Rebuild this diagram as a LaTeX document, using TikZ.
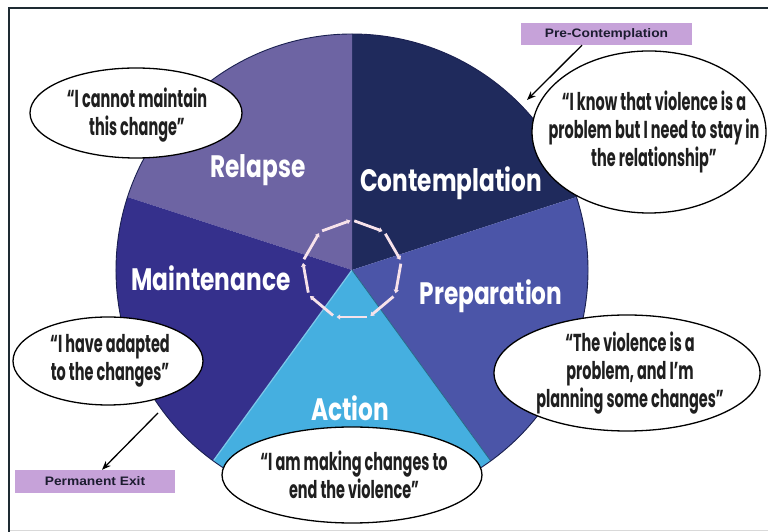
\documentclass[tikz,border=0pt]{standalone}
\usepackage{fontspec}
\setmainfont{Poppins}
\newfontfamily\quotefont[FakeStretch=0.59]{Poppins}
\newfontfamily\labelfont[FakeStretch=0.75]{Poppins}
\newfontfamily\boxfont[FakeStretch=1.12]{Liberation Sans}
\usetikzlibrary{arrows.meta,calc,shapes.geometric}
\definecolor{framecol}{HTML}{1E2B33}
\definecolor{ccon}{HTML}{1F2A5C}
\definecolor{cprep}{HTML}{4B55A8}
\definecolor{cact}{HTML}{45AFE0}
\definecolor{cmain}{HTML}{35308C}
\definecolor{crel}{HTML}{6D64A3}
\definecolor{pieline}{HTML}{1A2050}
\definecolor{boxcol}{HTML}{C6A2D9}
\definecolor{cyccol}{HTML}{F7E2EA}
\definecolor{boxtext}{HTML}{1C1C30}
\tikzset{
  sectorlabel/.style={text=white,font=\labelfont\bfseries\fontsize{31}{34}\selectfont,inner sep=0pt},
  quotebubble/.style={ellipse,draw=black,fill=white,line width=1.3pt,inner sep=0pt},
  quotetext/.style={align=center,font=\quotefont\bfseries\fontsize{24.5}{28}\selectfont,inner sep=0pt,text=black!88},
  stagebox/.style={fill=boxcol,inner sep=0pt,font=\boxfont\bfseries\fontsize{12.3}{14}\selectfont,text=boxtext},
  exitarrow/.style={draw=black,line width=1.3pt,-{Stealth[length=9pt,width=7pt]}},
  cycarrow/.style={draw=cyccol,line width=2.8pt,-{Triangle[length=3.5pt,width=5pt]}}
}
\begin{document}
\begin{tikzpicture}[x=1pt,y=1pt]
\useasboundingbox (0,0) rectangle (768,532);
% frame
\draw[black!15,line width=1pt] (9,1.5) -- (768,1.5);
\draw[framecol,line width=2pt] (9,0) -- (9,524) -- (768,524);
% pie
\coordinate (ctr) at (352,262);
\fill[ccon] (ctr) -- ++(18:236) arc[start angle=18,end angle=90,radius=236] -- cycle;
\fill[crel] (ctr) -- ++(90:236) arc[start angle=90,end angle=162,radius=236] -- cycle;
\fill[cmain] (ctr) -- ++(162:236) arc[start angle=162,end angle=234,radius=236] -- cycle;
\fill[cprep] (ctr) -- ++(-54:236) arc[start angle=-54,end angle=18,radius=236] -- cycle;
\fill[cact] (ctr) -- ++(-126:236) arc[start angle=-126,end angle=-54,radius=236] -- cycle;
\draw[cact!70!white,line width=1.2pt] (ctr) -- ++(-126:236);
\draw[cact!60!black,line width=0.8pt] (ctr) -- ++(-54:236);
\draw[pieline,line width=0.9pt] (ctr) circle[radius=236];
% cycle nonagon
\foreach \k in {0,...,8}{
  \pgfmathsetmacro\aa{90-40*\k}
  \pgfmathsetmacro\bb{50-40*\k}
  \path (ctr) ++(\aa:50) coordinate (A) (ctr) ++(\bb:50) coordinate (B);
  \draw[cycarrow] ($(A)!0.07!(B)$) -- ($(A)!0.95!(B)$);
}
% sector labels
\node[sectorlabel] (relapse) at (258,362) {Relapse};
\node[sectorlabel] (contemplation) at (451,349) {Contemplation};
\node[sectorlabel] (preparation) at (491,236) {Preparation};
\node[sectorlabel] (action) at (350,124) {Action};
\node[sectorlabel] (maintenance) at (211,254) {Maintenance};
% quote bubbles
\node[quotebubble,minimum width=212,minimum height=90] (brel) at (136,419) {};
\node[quotetext] (qrel) at (137,417) {“I cannot maintain\\this change”};
\node[quotebubble,minimum width=234,minimum height=162] (bcon) at (649,400) {};
\node[quotetext] (qcon) at (654,400) {“I know that violence is a\\problem but I need to stay in\\the relationship”};
\node[quotebubble,minimum width=266,minimum height=116] (bprep) at (627,159) {};
\node[quotetext] (qprep) at (630,159) {“The violence is a\\problem, and I’m\\planning some changes”};
\node[quotebubble,minimum width=260,minimum height=96] (bact) at (352,57) {};
\node[quotetext] (qact) at (354,57) {“I am making changes to\\end the violence”};
\node[quotebubble,minimum width=190,minimum height=88] (bmain) at (108,171) {};
\node[quotetext] (qmain) at (110,171) {“I have adapted\\to the changes”};
% stage boxes
\node[stagebox,minimum width=171,minimum height=22] (pre) at (606.5,498) {Pre-Contemplation};
\node[stagebox,minimum width=160,minimum height=23] (exit) at (95,50.5) {Permanent Exit};
% arrows
\coordinate (preend) at (527,432);
\coordinate (exitstart) at (158,119);
\draw[exitarrow] (pre.south -| 582,0) -- (preend);
\draw[exitarrow] (exitstart) -- (exit.north -| 102,0);
\end{tikzpicture}
\end{document}
